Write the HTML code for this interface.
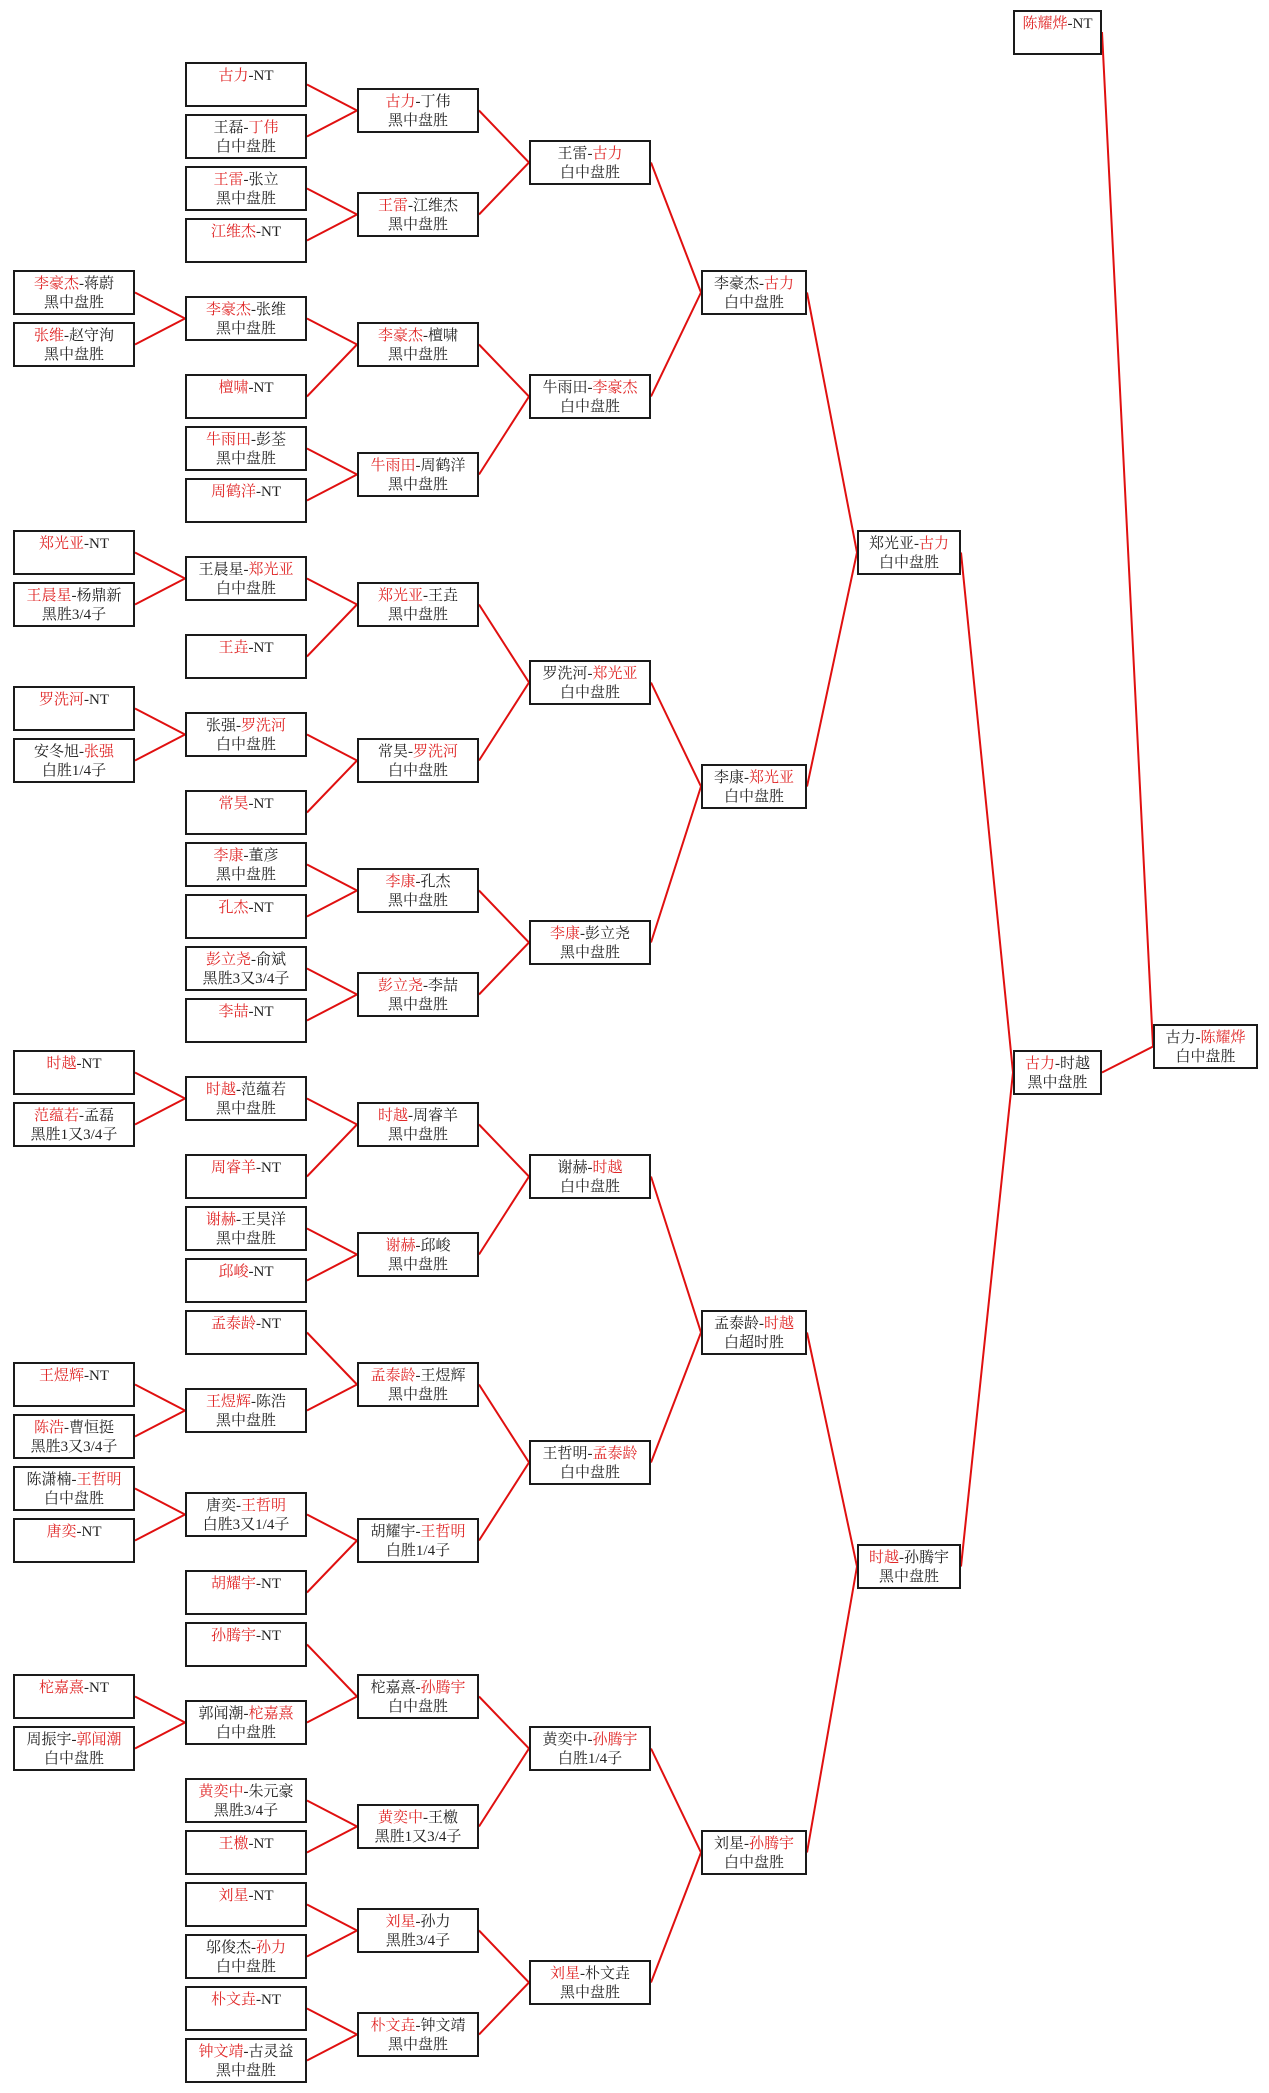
<!DOCTYPE html>
<html><head><meta charset="utf-8"><style>
body{margin:0;background:#fff;}
#w{position:relative;width:1269px;height:2093px;overflow:hidden;background:#fff;font-family:"Liberation Serif","Noto Serif CJK SC","Noto Sans CJK SC",serif;}
.b{position:absolute;height:45px;box-sizing:border-box;border:2px solid #1a1a1a;background:#fff;text-align:center;font-size:15px;line-height:19px;padding-top:3px;color:#222;white-space:nowrap;}
.r{color:#e02828;}
.c0{left:13px;width:122px}.c1{left:185px;width:122px}.c2{left:357px;width:122px}.c3{left:529px;width:122px}
.c4{left:701px;width:106px}.c5{left:857px;width:104px}.c6{left:1013px;width:89px}.c7{left:1153px;width:105px}
svg{position:absolute;left:0;top:0}
polyline,line{fill:none;stroke:#e01010;stroke-width:2}
</style></head><body><div id="w">
<svg width="1269" height="2093">
<polyline points="307,84.5 357,110.5 307,136.5"/>
<polyline points="307,188.5 357,214.5 307,240.5"/>
<polyline points="479,110.5 529,162.5 479,214.5"/>
<polyline points="135,292.5 185,318.5 135,344.5"/>
<polyline points="307,318.5 357,344.5 307,396.5"/>
<polyline points="307,448.5 357,474.5 307,500.5"/>
<polyline points="479,344.5 529,396.5 479,474.5"/>
<polyline points="651,162.5 701,292.5 651,396.5"/>
<polyline points="135,552.5 185,578.5 135,604.5"/>
<polyline points="307,578.5 357,604.5 307,656.5"/>
<polyline points="135,708.5 185,734.5 135,760.5"/>
<polyline points="307,734.5 357,760.5 307,812.5"/>
<polyline points="479,604.5 529,682.5 479,760.5"/>
<polyline points="307,864.5 357,890.5 307,916.5"/>
<polyline points="307,968.5 357,994.5 307,1020.5"/>
<polyline points="479,890.5 529,942.5 479,994.5"/>
<polyline points="651,682.5 701,786.5 651,942.5"/>
<polyline points="807,292.5 857,552.5 807,786.5"/>
<polyline points="135,1072.5 185,1098.5 135,1124.5"/>
<polyline points="307,1098.5 357,1124.5 307,1176.5"/>
<polyline points="307,1228.5 357,1254.5 307,1280.5"/>
<polyline points="479,1124.5 529,1176.5 479,1254.5"/>
<polyline points="135,1384.5 185,1410.5 135,1436.5"/>
<polyline points="307,1332.5 357,1384.5 307,1410.5"/>
<polyline points="135,1488.5 185,1514.5 135,1540.5"/>
<polyline points="307,1514.5 357,1540.5 307,1592.5"/>
<polyline points="479,1384.5 529,1462.5 479,1540.5"/>
<polyline points="651,1176.5 701,1332.5 651,1462.5"/>
<polyline points="135,1696.5 185,1722.5 135,1748.5"/>
<polyline points="307,1644.5 357,1696.5 307,1722.5"/>
<polyline points="307,1800.5 357,1826.5 307,1852.5"/>
<polyline points="479,1696.5 529,1748.5 479,1826.5"/>
<polyline points="307,1904.5 357,1930.5 307,1956.5"/>
<polyline points="307,2008.5 357,2034.5 307,2060.5"/>
<polyline points="479,1930.5 529,1982.5 479,2034.5"/>
<polyline points="651,1748.5 701,1852.5 651,1982.5"/>
<polyline points="807,1332.5 857,1566.5 807,1852.5"/>
<polyline points="961,552.5 1013,1072.5 961,1566.5"/>
<polyline points="1102,1072.5 1153,1046.5 1102,32"/>
</svg>

<div class="b c6" style="top:10px"><span class="r">陈耀烨</span>-NT</div>
<div class="b c7" style="top:1024px">古力-<span class="r">陈耀烨</span><br>白中盘胜</div>
<div class="b c6" style="top:1050px"><span class="r">古力</span>-时越<br>黑中盘胜</div>
<div class="b c5" style="top:530px">郑光亚-<span class="r">古力</span><br>白中盘胜</div>
<div class="b c5" style="top:1544px"><span class="r">时越</span>-孙腾宇<br>黑中盘胜</div>

<div class="b c4" style="top:270px">李豪杰-<span class="r">古力</span><br>白中盘胜</div>
<div class="b c4" style="top:764px">李康-<span class="r">郑光亚</span><br>白中盘胜</div>
<div class="b c4" style="top:1310px">孟泰龄-<span class="r">时越</span><br>白超时胜</div>
<div class="b c4" style="top:1830px">刘星-<span class="r">孙腾宇</span><br>白中盘胜</div>

<div class="b c3" style="top:140px">王雷-<span class="r">古力</span><br>白中盘胜</div>
<div class="b c3" style="top:374px">牛雨田-<span class="r">李豪杰</span><br>白中盘胜</div>
<div class="b c3" style="top:660px">罗洗河-<span class="r">郑光亚</span><br>白中盘胜</div>
<div class="b c3" style="top:920px"><span class="r">李康</span>-彭立尧<br>黑中盘胜</div>
<div class="b c3" style="top:1154px">谢赫-<span class="r">时越</span><br>白中盘胜</div>
<div class="b c3" style="top:1440px">王哲明-<span class="r">孟泰龄</span><br>白中盘胜</div>
<div class="b c3" style="top:1726px">黄奕中-<span class="r">孙腾宇</span><br>白胜1/4子</div>
<div class="b c3" style="top:1960px"><span class="r">刘星</span>-朴文垚<br>黑中盘胜</div>

<div class="b c2" style="top:88px"><span class="r">古力</span>-丁伟<br>黑中盘胜</div>
<div class="b c2" style="top:192px"><span class="r">王雷</span>-江维杰<br>黑中盘胜</div>
<div class="b c2" style="top:322px"><span class="r">李豪杰</span>-檀啸<br>黑中盘胜</div>
<div class="b c2" style="top:452px"><span class="r">牛雨田</span>-周鹤洋<br>黑中盘胜</div>
<div class="b c2" style="top:582px"><span class="r">郑光亚</span>-王垚<br>黑中盘胜</div>
<div class="b c2" style="top:738px">常昊-<span class="r">罗洗河</span><br>白中盘胜</div>
<div class="b c2" style="top:868px"><span class="r">李康</span>-孔杰<br>黑中盘胜</div>
<div class="b c2" style="top:972px"><span class="r">彭立尧</span>-李喆<br>黑中盘胜</div>
<div class="b c2" style="top:1102px"><span class="r">时越</span>-周睿羊<br>黑中盘胜</div>
<div class="b c2" style="top:1232px"><span class="r">谢赫</span>-邱峻<br>黑中盘胜</div>
<div class="b c2" style="top:1362px"><span class="r">孟泰龄</span>-王煜辉<br>黑中盘胜</div>
<div class="b c2" style="top:1518px">胡耀宇-<span class="r">王哲明</span><br>白胜1/4子</div>
<div class="b c2" style="top:1674px">柁嘉熹-<span class="r">孙腾宇</span><br>白中盘胜</div>
<div class="b c2" style="top:1804px"><span class="r">黄奕中</span>-王檄<br>黑胜1又3/4子</div>
<div class="b c2" style="top:1908px"><span class="r">刘星</span>-孙力<br>黑胜3/4子</div>
<div class="b c2" style="top:2012px"><span class="r">朴文垚</span>-钟文靖<br>黑中盘胜</div>

<div class="b c1" style="top:62px"><span class="r">古力</span>-NT</div>
<div class="b c1" style="top:114px">王磊-<span class="r">丁伟</span><br>白中盘胜</div>
<div class="b c1" style="top:166px"><span class="r">王雷</span>-张立<br>黑中盘胜</div>
<div class="b c1" style="top:218px"><span class="r">江维杰</span>-NT</div>
<div class="b c1" style="top:296px"><span class="r">李豪杰</span>-张维<br>黑中盘胜</div>
<div class="b c1" style="top:374px"><span class="r">檀啸</span>-NT</div>
<div class="b c1" style="top:426px"><span class="r">牛雨田</span>-彭荃<br>黑中盘胜</div>
<div class="b c1" style="top:478px"><span class="r">周鹤洋</span>-NT</div>
<div class="b c1" style="top:556px">王晨星-<span class="r">郑光亚</span><br>白中盘胜</div>
<div class="b c1" style="top:634px"><span class="r">王垚</span>-NT</div>
<div class="b c1" style="top:712px">张强-<span class="r">罗洗河</span><br>白中盘胜</div>
<div class="b c1" style="top:790px"><span class="r">常昊</span>-NT</div>
<div class="b c1" style="top:842px"><span class="r">李康</span>-董彦<br>黑中盘胜</div>
<div class="b c1" style="top:894px"><span class="r">孔杰</span>-NT</div>
<div class="b c1" style="top:946px"><span class="r">彭立尧</span>-俞斌<br>黑胜3又3/4子</div>
<div class="b c1" style="top:998px"><span class="r">李喆</span>-NT</div>
<div class="b c1" style="top:1076px"><span class="r">时越</span>-范蕴若<br>黑中盘胜</div>
<div class="b c1" style="top:1154px"><span class="r">周睿羊</span>-NT</div>
<div class="b c1" style="top:1206px"><span class="r">谢赫</span>-王昊洋<br>黑中盘胜</div>
<div class="b c1" style="top:1258px"><span class="r">邱峻</span>-NT</div>
<div class="b c1" style="top:1310px"><span class="r">孟泰龄</span>-NT</div>
<div class="b c1" style="top:1388px"><span class="r">王煜辉</span>-陈浩<br>黑中盘胜</div>
<div class="b c1" style="top:1492px">唐奕-<span class="r">王哲明</span><br>白胜3又1/4子</div>
<div class="b c1" style="top:1570px"><span class="r">胡耀宇</span>-NT</div>
<div class="b c1" style="top:1622px"><span class="r">孙腾宇</span>-NT</div>
<div class="b c1" style="top:1700px">郭闻潮-<span class="r">柁嘉熹</span><br>白中盘胜</div>
<div class="b c1" style="top:1778px"><span class="r">黄奕中</span>-朱元豪<br>黑胜3/4子</div>
<div class="b c1" style="top:1830px"><span class="r">王檄</span>-NT</div>
<div class="b c1" style="top:1882px"><span class="r">刘星</span>-NT</div>
<div class="b c1" style="top:1934px">邬俊杰-<span class="r">孙力</span><br>白中盘胜</div>
<div class="b c1" style="top:1986px"><span class="r">朴文垚</span>-NT</div>
<div class="b c1" style="top:2038px"><span class="r">钟文靖</span>-古灵益<br>黑中盘胜</div>

<div class="b c0" style="top:270px"><span class="r">李豪杰</span>-蒋蔚<br>黑中盘胜</div>
<div class="b c0" style="top:322px"><span class="r">张维</span>-赵守洵<br>黑中盘胜</div>
<div class="b c0" style="top:530px"><span class="r">郑光亚</span>-NT</div>
<div class="b c0" style="top:582px"><span class="r">王晨星</span>-杨鼎新<br>黑胜3/4子</div>
<div class="b c0" style="top:686px"><span class="r">罗洗河</span>-NT</div>
<div class="b c0" style="top:738px">安冬旭-<span class="r">张强</span><br>白胜1/4子</div>
<div class="b c0" style="top:1050px"><span class="r">时越</span>-NT</div>
<div class="b c0" style="top:1102px"><span class="r">范蕴若</span>-孟磊<br>黑胜1又3/4子</div>
<div class="b c0" style="top:1362px"><span class="r">王煜辉</span>-NT</div>
<div class="b c0" style="top:1414px"><span class="r">陈浩</span>-曹恒挺<br>黑胜3又3/4子</div>
<div class="b c0" style="top:1466px">陈潇楠-<span class="r">王哲明</span><br>白中盘胜</div>
<div class="b c0" style="top:1518px"><span class="r">唐奕</span>-NT</div>
<div class="b c0" style="top:1674px"><span class="r">柁嘉熹</span>-NT</div>
<div class="b c0" style="top:1726px">周振宇-<span class="r">郭闻潮</span><br>白中盘胜</div>
</div></body></html>
